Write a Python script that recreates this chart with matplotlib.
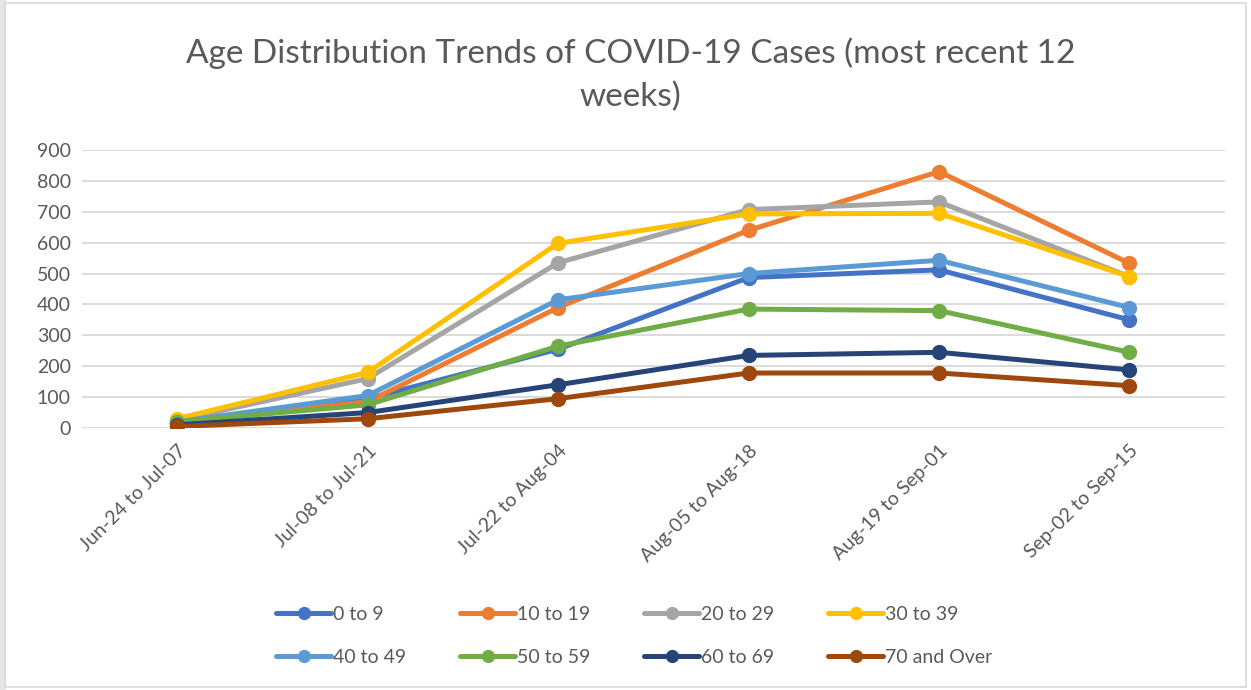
import matplotlib.pyplot as plt
from matplotlib.patches import Rectangle

periods = ["Jun-24 to Jul-07", "Jul-08 to Jul-21", "Jul-22 to Aug-04",
           "Aug-05 to Aug-18", "Aug-19 to Sep-01", "Sep-02 to Sep-15"]

age_0_9 = [15, 95, 255, 487, 512, 350]
age_10_19 = [20, 85, 390, 640, 830, 533]
age_20_29 = [25, 160, 535, 707, 732, 490]
age_30_39 = [30, 180, 598, 693, 695, 490]
age_40_49 = [20, 105, 415, 500, 543, 390]
age_50_59 = [20, 75, 265, 385, 380, 245]
age_60_69 = [10, 50, 140, 235, 245, 188]
age_70_over = [5, 30, 95, 178, 178, 137]

labels = ["0 to 9", "10 to 19", "20 to 29", "30 to 39",
          "40 to 49", "50 to 59", "60 to 69", "70 and Over"]
colors = ["#4472C4", "#ED7D31", "#A5A5A5", "#FFC000",
          "#5B9BD5", "#70AD47", "#264478", "#9E480E"]
series = [age_0_9, age_10_19, age_20_29, age_30_39,
          age_40_49, age_50_59, age_60_69, age_70_over]

plt.rcParams['font.family'] = ['Lato', 'DejaVu Sans']
text_col = "#595959"

fig = plt.figure(figsize=(12.51, 6.9), dpi=100)
fig.patches.append(Rectangle((0.0, 0.0), 0.005, 1.0, transform=fig.transFigure,
                             facecolor="#E6E6E6", edgecolor="none"))
fig.patches.append(Rectangle((0.004, 0.004), 0.992, 0.992, transform=fig.transFigure,
                             fill=False, edgecolor="#D9D9D9", linewidth=1.2))
ax = fig.add_axes([0.0655, 0.3797, 0.9135, 0.4029])

x = list(range(len(periods)))
handles = []
for vals, lab, col in zip(series, labels, colors):
    h, = ax.plot(x, vals, color=col, linewidth=3.6, marker='o', markersize=10,
                 label=lab, solid_capstyle='round')
    handles.append(h)

ax.set_xlim(-0.5, 5.5)
ax.set_ylim(0, 900)
ax.set_yticks(range(0, 1000, 100))
ax.set_xticks(x)
ax.set_xticklabels(periods, rotation=45, ha='right', rotation_mode='anchor')
ax.tick_params(axis='both', length=0, labelsize=14, colors=text_col, pad=8)
ax.tick_params(axis='x', pad=10)
ax.grid(axis='y', color="#D9D9D9", linewidth=1.3)
ax.set_axisbelow(True)
for s in ax.spines.values():
    s.set_visible(False)

fig.text(0.504, 0.892, "Age Distribution Trends of COVID-19 Cases (most recent 12\nweeks)",
         ha='center', va='center', fontsize=24, color=text_col, linespacing=1.5)

# legend fills row by row, 4 per row
order = [0, 4, 1, 5, 2, 6, 3, 7]
fig.legend([handles[i] for i in order], [labels[i] for i in order],
           loc='center', bbox_to_anchor=(0.507, 0.078), ncol=4, frameon=False,
           fontsize=14, labelcolor=text_col, handlelength=2.85, handletextpad=0.1,
           columnspacing=2.75, labelspacing=1.35, markerscale=0.85)

fig.savefig("out.png", dpi=100)
